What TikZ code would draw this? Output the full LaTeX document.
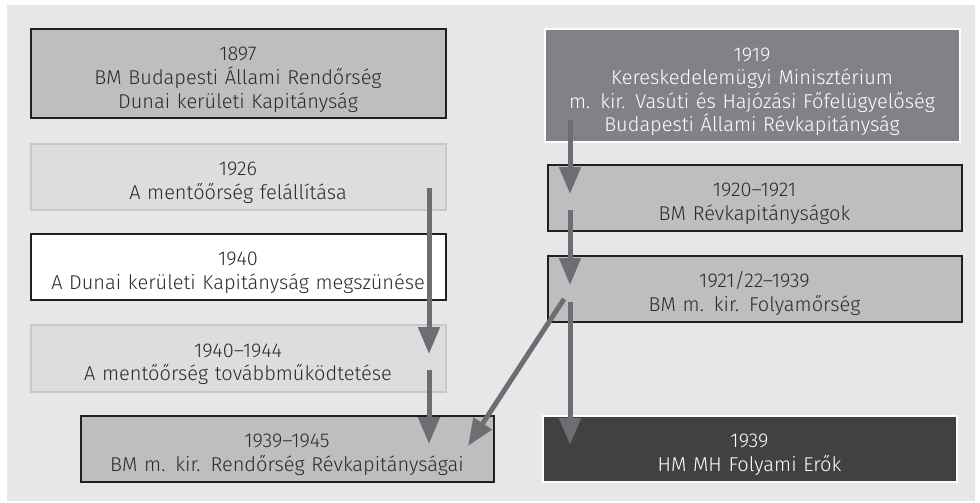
\documentclass[tikz,border=0pt]{standalone}
\usepackage{fontspec}
\setmainfont{Fira Sans}[UprightFont=* Light, WordSpace=0.8]
\usetikzlibrary{arrows.meta}
\newcommand\topstrutx{\rule{0pt}{26pt}}
\definecolor{bgc}{HTML}{E6E7E8}
\definecolor{midc}{HTML}{BCBEC0}
\definecolor{lightc}{HTML}{DCDDDF}
\definecolor{lightb}{HTML}{C7C8CA}
\definecolor{darkc}{HTML}{808285}
\definecolor{darkerc}{HTML}{414042}
\definecolor{blk}{HTML}{231F20}
\definecolor{arrc}{HTML}{6D6E71}
\definecolor{txt}{HTML}{2B2B2B}
\tikzset{
  box/.style={rectangle, line width=2pt, align=center, inner sep=0pt,
    text width=400pt, font=\fontsize{20}{23.6}\selectfont, text=txt},
  midbox/.style={box, fill=midc, draw=blk},
  lightbox/.style={box, fill=lightc, draw=lightb},
  whitebox/.style={box, fill=white, draw=blk},
  darkbox/.style={box, fill=darkc, draw=white, text=white},
  darkerbox/.style={box, fill=darkerc, draw=white, text=white},
  arr/.style={draw=arrc, line width=5pt, -{Triangle[length=27pt,width=21pt]}, color=arrc}
}
\begin{document}
\begin{tikzpicture}[x=1pt,y=-1pt]
\useasboundingbox (0,0) rectangle (980,503);
\fill[white] (0,0) rectangle (980,503);
\fill[bgc] (7,5) rectangle (975,501);
% left column
\node[midbox, minimum width=415pt, minimum height=88pt] (n1) at (238,73.5)
  {\topstrutx 1897\\BM Budapesti Állami Rendőrség\\Dunai kerületi Kapitányság};
\node[lightbox, minimum width=415pt, minimum height=66pt] (n2) at (238,176.5)
  {\topstrutx 1926\\A mentőőrség felállítása};
\node[whitebox, minimum width=415pt, minimum height=66pt] (n3) at (238,266.5)
  {\topstrutx 1940\\A Dunai kerületi Kapitányság megszünése};
\node[lightbox, minimum width=415pt, minimum height=67pt] (n4) at (238,358)
  {\topstrutx 1940--1944\\A mentőőrség továbbműködtetése};
\node[midbox, minimum width=413pt, minimum height=66pt] (n5) at (287,448.5)
  {\topstrutx 1939--1945\\BM m. kir. Rendőrség Révkapitányságai};
% right column
\node[darkbox, minimum width=415pt, minimum height=112pt] (n6) at (752,85.5)
  {\topstrutx 1919\\Kereskedelemügyi Minisztérium\\m. kir. Vasúti és Hajózási Főfelügyelőség\\Budapesti Állami Révkapitányság};
\node[midbox, minimum width=414pt, minimum height=66pt] (n7) at (754.5,197.5)
  {\topstrutx 1920--1921\\BM Révkapitányságok};
\node[midbox, minimum width=414pt, minimum height=66pt] (n8) at (754.5,288.5)
  {\topstrutx 1921/22--1939\\BM m. kir. Folyamőrség};
\node[darkerbox, minimum width=414pt, minimum height=66pt] (n9) at (749.5,448.5)
  {\topstrutx 1939\\HM MH Folyami Erők};
% connector end points
\coordinate (a1s) at (570,120); \coordinate (a1e) at (570,194);
\coordinate (a2s) at (570,210); \coordinate (a2e) at (570,285);
\coordinate (a3s) at (570,302); \coordinate (a3e) at (570,445);
\coordinate (a4s) at (564,299); \coordinate (a4e) at (468,446);
\coordinate (a5s) at (429,188); \coordinate (a5e) at (429,354);
\coordinate (a6s) at (429,370); \coordinate (a6e) at (429,444);
\draw[arr] (a1s) -- (a1e);
\draw[arr] (a2s) -- (a2e);
\draw[arr] (a3s) -- (a3e);
\draw[arr] (a4s) -- (a4e);
\draw[arr] (a5s) -- (a5e);
\draw[arr] (a6s) -- (a6e);
\end{tikzpicture}
\end{document}
